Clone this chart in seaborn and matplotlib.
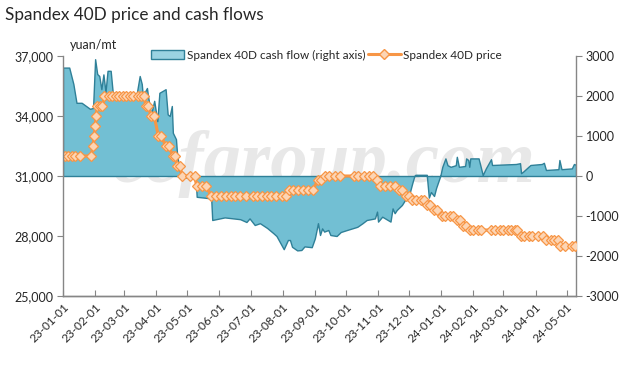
import pandas as pd
import numpy as np
import matplotlib
matplotlib.use("Agg")
import matplotlib.pyplot as plt
import matplotlib.dates as mdates
from matplotlib.patches import Patch
from matplotlib.lines import Line2D
import seaborn as sns

# ---------------------------
# Data
# ---------------------------
price_dates = [
    "2023-01-03", "2023-01-06", "2023-01-10", "2023-01-13", "2023-01-17", "2023-01-28",
    "2023-01-30", "2023-01-31", "2023-02-01", "2023-02-02", "2023-02-03", "2023-02-06",
    "2023-02-08", "2023-02-10", "2023-02-14", "2023-02-17", "2023-02-21", "2023-02-24",
    "2023-02-28", "2023-03-03", "2023-03-07", "2023-03-10", "2023-03-14", "2023-03-17",
    "2023-03-20", "2023-03-22", "2023-03-24", "2023-03-27", "2023-03-30", "2023-04-03",
    "2023-04-06", "2023-04-10", "2023-04-13", "2023-04-17", "2023-04-19", "2023-04-21",
    "2023-04-24", "2023-04-26", "2023-05-04", "2023-05-08", "2023-05-10", "2023-05-15",
    "2023-05-19", "2023-05-24", "2023-05-29", "2023-06-02", "2023-06-07", "2023-06-12",
    "2023-06-16", "2023-06-21", "2023-06-27", "2023-07-03", "2023-07-07", "2023-07-12",
    "2023-07-17", "2023-07-21", "2023-07-26", "2023-07-31", "2023-08-04", "2023-08-07",
    "2023-08-11", "2023-08-16", "2023-08-21", "2023-08-25", "2023-08-30", "2023-09-04",
    "2023-09-07", "2023-09-11", "2023-09-15", "2023-09-20", "2023-09-25", "2023-10-09",
    "2023-10-13", "2023-10-18", "2023-10-23", "2023-10-27", "2023-10-31", "2023-11-03",
    "2023-11-08", "2023-11-13", "2023-11-17", "2023-11-21", "2023-11-24", "2023-11-28",
    "2023-12-01", "2023-12-04", "2023-12-08", "2023-12-12", "2023-12-15", "2023-12-18",
    "2023-12-21", "2023-12-25", "2023-12-28", "2024-01-02", "2024-01-05", "2024-01-09",
    "2024-01-12", "2024-01-16", "2024-01-19", "2024-01-22", "2024-01-25", "2024-01-29",
    "2024-02-01", "2024-02-05", "2024-02-08", "2024-02-18", "2024-02-22", "2024-02-27",
    "2024-03-01", "2024-03-05", "2024-03-08", "2024-03-12", "2024-03-14", "2024-03-18",
    "2024-03-21", "2024-03-26", "2024-03-29", "2024-04-03", "2024-04-08", "2024-04-11",
    "2024-04-16", "2024-04-19", "2024-04-23", "2024-04-25", "2024-04-29", "2024-05-06",
    "2024-05-09",
]
price_values = [
    32000, 32000, 32000, 32000, 32000, 32000,
    32500, 33000, 33500, 34000, 34500, 34500,
    34500, 35000, 35000, 35000, 35000, 35000,
    35000, 35000, 35000, 35000, 35000, 35000,
    35000, 34500, 34500, 34000, 34000, 33000,
    33000, 32500, 32500, 32000, 32000, 31500,
    31500, 31000, 31000, 31000, 30500, 30500,
    30500, 30000, 30000, 30000, 30000, 30000,
    30000, 30000, 30000, 30000, 30000, 30000,
    30000, 30000, 30000, 30000, 30000, 30300,
    30300, 30300, 30300, 30300, 30300, 30800,
    30800, 31000, 31000, 31000, 31000, 31000,
    31000, 31000, 31000, 31000, 30800, 30500,
    30500, 30500, 30500, 30300, 30300, 30000,
    30000, 29800, 29800, 29800, 29800, 29550,
    29550, 29300, 29300, 29000, 29000, 29000,
    29000, 28800, 28800, 28500, 28500, 28300,
    28300, 28300, 28300, 28300, 28300, 28300,
    28300, 28300, 28300, 28300, 28300, 28000,
    28000, 28000, 28000, 28000, 28000, 27800,
    27800, 27800, 27800, 27500, 27500, 27500,
    27500,
]

cf_dates = [
    "2023-01-01", "2023-01-07", "2023-01-11", "2023-01-14", "2023-01-19", "2023-01-27",
    "2023-01-30", "2023-02-01", "2023-02-03", "2023-02-05", "2023-02-07", "2023-02-09",
    "2023-02-11", "2023-02-13", "2023-02-16", "2023-02-18", "2023-03-13", "2023-03-16",
    "2023-03-18", "2023-03-19", "2023-03-23", "2023-03-24", "2023-03-27", "2023-03-30",
    "2023-04-02", "2023-04-04", "2023-04-10", "2023-04-12", "2023-04-14", "2023-04-16",
    "2023-04-17", "2023-04-20", "2023-04-21", "2023-04-23", "2023-04-25", "2023-04-26",
    "2023-05-09", "2023-05-10", "2023-05-24", "2023-05-25", "2023-06-06", "2023-06-21",
    "2023-06-27", "2023-06-30", "2023-07-05", "2023-07-10", "2023-07-17", "2023-07-23",
    "2023-07-26", "2023-08-02", "2023-08-06", "2023-08-08", "2023-08-10", "2023-08-15",
    "2023-08-19", "2023-08-22", "2023-08-29", "2023-09-01", "2023-09-03", "2023-09-04",
    "2023-09-06", "2023-09-08", "2023-09-10", "2023-09-14", "2023-09-16", "2023-09-22",
    "2023-09-26", "2023-10-02", "2023-10-12", "2023-10-17", "2023-10-21", "2023-10-29",
    "2023-10-31", "2023-11-01", "2023-11-05", "2023-11-13", "2023-11-15", "2023-11-17",
    "2023-11-19", "2023-11-24", "2023-11-27", "2023-12-01", "2023-12-04", "2023-12-06",
    "2023-12-07", "2023-12-18", "2023-12-20", "2023-12-22", "2023-12-25", "2023-12-27",
    "2023-12-31", "2024-01-02", "2024-01-05", "2024-01-07", "2024-01-10", "2024-01-15",
    "2024-01-16", "2024-01-18", "2024-01-24", "2024-01-25", "2024-01-27", "2024-01-28",
    "2024-01-29", "2024-02-06", "2024-02-10", "2024-02-13", "2024-02-18", "2024-02-19",
    "2024-03-13", "2024-03-17", "2024-03-18", "2024-03-20", "2024-03-27", "2024-04-07",
    "2024-04-09", "2024-04-11", "2024-04-23", "2024-04-24", "2024-04-26", "2024-05-06",
    "2024-05-08", "2024-05-10",
]
cf_values = [
    2710, 2710, 2300, 1830, 1830, 1680,
    1700, 2920, 2550, 2500, 2170, 2540,
    2100, 2630, 2630, 2080, 2040, 2500,
    2300, 2000, 2200, 2000, 1540, 1880,
    1370, 2080, 2170, 1540, 1500, 1750,
    1080, 920, 570, 200, 0, -30,
    -60, -520, -560, -1100, -1035, -1080,
    -1150, -1060, -1225, -1180, -1300, -1430,
    -1500, -1830, -1600, -1600, -1770, -1860,
    -1850, -1760, -1780, -1560, -1310, -1180,
    -1475, -1310, -1390, -1350, -1475, -1500,
    -1400, -1350, -1270, -1180, -1100, -1060,
    -890, -1140, -1017, -1140, -810, -930,
    -850, -725, -600, -475, -180, 0,
    30, 30, -540, -400, -500, -300,
    0, 230, 440, 270, 230, 270,
    480, 230, 250, 440, 400, 230,
    440, 440, 25, 190, 420, 275,
    300, 320, 70, 110, 275, 300,
    330, 150, 170, 400, 170, 190,
    300, 280,
]

left_ticks = [25000, 28000, 31000, 34000, 37000]
right_ticks = [-3000, -2000, -1000, 0, 1000, 2000, 3000]

price = pd.DataFrame({"date": pd.to_datetime(price_dates), "price": price_values})
cf = pd.DataFrame({"date": pd.to_datetime(cf_dates), "cf": cf_values})

# ---------------------------
# Style
# ---------------------------
sns.set_style("white")
plt.rcParams["font.family"] = ["Lato", "DejaVu Sans"]

grey = "#868686"
orange = "#F79646"
fill_blue = "#72BFD3"
edge_teal = "#2F8098"

fig = plt.figure(figsize=(6.34, 3.77), dpi=100)
ax = fig.add_axes([63 / 634, 1 - 296 / 377, 513 / 634, 240 / 377])
ax2 = ax.twinx()
ax.set_zorder(ax2.get_zorder() + 1)
ax.patch.set_visible(False)

# watermark behind the data
ax2.text(0.51, 0.55, "ccfgroup.com", transform=ax2.transAxes, ha="center", va="center",
         fontsize=54, style="italic", weight="bold", family="Liberation Serif",
         color="#e8e8e8", zorder=0)

# cash flow area (right axis)
ax2.fill_between(cf["date"], cf["cf"], 0, facecolor=fill_blue, edgecolor=edge_teal,
                 linewidth=1.0, zorder=2)

# price line (left axis)
sns.lineplot(data=price, x="date", y="price", ax=ax, color=orange, linewidth=2.2,
             marker="D", markersize=5.5, markerfacecolor="#FCD5B5",
             markeredgecolor=orange, markeredgewidth=0.9, legend=False)

# ---------------------------
# Axes
# ---------------------------
ax.set_xlim(pd.Timestamp("2023-01-01"), pd.Timestamp("2024-05-10"))
ax.set_ylim(25000, 37000)
ax2.set_ylim(-3000, 3000)
ax.set_yticks(left_ticks)
ax.set_yticklabels([f"{v:,}" for v in left_ticks])
ax2.set_yticks(right_ticks)
ax2.set_yticklabels([str(v) for v in right_ticks])

month_ticks = pd.date_range("2023-01-01", "2024-05-01", freq="MS")
ax.set_xticks(month_ticks)
ax.xaxis.set_major_formatter(mdates.DateFormatter("%y-%m-%d"))
plt.setp(ax.get_xticklabels(), rotation=45, ha="right", rotation_mode="anchor")

ax.set_xlabel("")
ax.set_ylabel("")
ax2.set_ylabel("")

for a in (ax, ax2):
    a.grid(False)
    for s in a.spines.values():
        s.set_color(grey)
        s.set_linewidth(1.0)
    a.spines["top"].set_visible(False)
ax.spines["right"].set_visible(False)
ax2.spines["left"].set_visible(False)

ax.tick_params(axis="y", direction="out", length=4, color=grey, labelsize=9, pad=3)
ax.tick_params(axis="x", direction="in", length=4, color=grey, labelsize=8.5, pad=4,
               bottom=True)
ax2.tick_params(axis="y", direction="out", length=4, color=grey, labelsize=9, pad=3,
                right=True)

# ---------------------------
# Texts and legend
# ---------------------------
fig.text(0.008, 1 - 15 / 377, "Spandex 40D price and cash flows", fontsize=12.3,
         ha="left", va="center")
fig.text(70 / 634, 1 - 45 / 377, "yuan/mt", fontsize=9, ha="left", va="center")

handles = [
    Patch(facecolor="#9AD3E2", edgecolor=edge_teal, linewidth=1.0),
    Line2D([], [], color=orange, linewidth=2.2, marker="D", markersize=5,
           markerfacecolor="#FCD5B5", markeredgecolor=orange),
]
labels = ["Spandex 40D cash flow (right axis)", "Spandex 40D price"]
fig.legend(handles, labels, loc="center", bbox_to_anchor=(0.515, 1 - 55 / 377), ncol=2,
           frameon=False, fontsize=8.5, handlelength=2.8, handleheight=0.9,
           handletextpad=0.2, columnspacing=0.2)

fig.savefig("out.png", dpi=100)
